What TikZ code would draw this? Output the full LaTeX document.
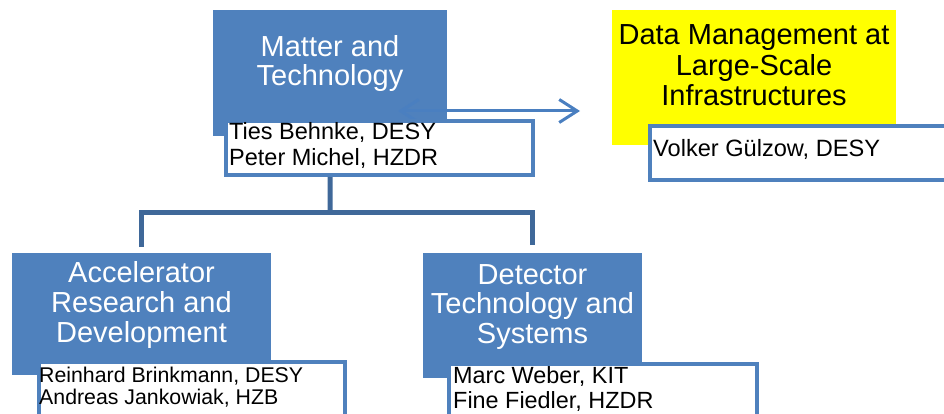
\documentclass[tikz,border=0pt]{standalone}
\usepackage{fontspec}
\setmainfont{Liberation Sans}
\usetikzlibrary{arrows.meta}
\definecolor{boxblue}{HTML}{4F81BD}
\definecolor{linkblue}{HTML}{3F6899}
\definecolor{arrowblue}{HTML}{4A7FC0}
\definecolor{hiyellow}{HTML}{FFFF00}
\tikzset{
  x=1pt, y=-1pt,
  areabox/.style={fill=boxblue, draw=none, inner sep=0pt, anchor=north west},
  hibox/.style={fill=hiyellow, draw=none, inner sep=0pt, anchor=north west},
  namebox/.style={fill=white, draw=boxblue, line width=4pt, inner sep=0pt, anchor=north west},
  areatitle/.style={text=white, inner sep=0pt, anchor=base, align=center,
    font=\fontsize{29}{29.5}\selectfont},
  hititle/.style={text=black, inner sep=0pt, anchor=base, align=center,
    font=\fontsize{29}{30.5}\selectfont},
  names/.style={text=black, inner sep=0pt, anchor=base west, align=left},
  conn/.style={draw=linkblue, line width=5pt},
  linkarrow/.style={draw=arrowblue, line width=3pt,
    {Straight Barb[length=18pt,width=23pt]}-{Straight Barb[length=18pt,width=23pt]}}
}
\begin{document}
\begin{tikzpicture}
\useasboundingbox (0,0) rectangle (944,414);
\clip (0,0) rectangle (944,414);

% programme areas
\node[areabox, minimum width=234pt, minimum height=126pt] (mt) at (213,10) {};
\node[hibox, minimum width=284pt, minimum height=135pt] (dm) at (612,10) {};
\node[areabox, minimum width=259pt, minimum height=122pt] (ac) at (12,253) {};
\node[areabox, minimum width=219pt, minimum height=125pt] (dt) at (423,253) {};

% link between the two areas
\coordinate (al) at (398,111);
\draw[linkarrow] (al) -- ([xshift=-32pt]dm.west |- al);

% spokesperson boxes
\node[namebox, minimum width=307pt, minimum height=54pt] (mtn) at (224,119) {};
\node[namebox, minimum width=310pt, minimum height=54pt] (dmn) at (648,124) {};
\node[namebox, minimum width=306pt, minimum height=58pt] (acn) at (37,360) {};
\node[namebox, minimum width=308pt, minimum height=56pt] (dtn) at (447,362) {};

% titles (anchored on the baseline of the last line)
\node[areatitle, font=\fontsize{29}{29}\selectfont] (mtt) at (330,86) {Matter and\\Technology};
\node[hititle] (dmt) at (754,106) {Data Management at\\Large-Scale\\Infrastructures};
\node[areatitle, font=\fontsize{29}{30}\selectfont] (act) at (141.5,342) {Accelerator\\Research and\\Development};
\node[areatitle] (dtt) at (532.5,343) {Detector\\Technology and\\Systems};

% names
\node[names, font=\fontsize{23.5}{26}\selectfont] (mtp) at (229,166)
  {Ties Behnke, DESY\\Peter Michel, HZDR};
\node[names, font=\fontsize{23.6}{26}\selectfont] (dmp) at (653,157)
  {Volker Gülzow, DESY};
\node[names, font=\fontsize{21.3}{21.5}\selectfont] (acp) at (39,404)
  {Reinhard Brinkmann, DESY\\Andreas Jankowiak, HZB};
\node[names, font=\fontsize{23.4}{25}\selectfont] (dtp) at (453,408)
  {Marc Weber, KIT\\Fine Fiedler, HZDR};

% tree connectors
\coordinate (bus) at (330,212);
\draw[conn] (mt.south |- mtn.south) -- (bus);
\draw[conn] ([yshift=6pt]ac.north) |- (bus) -| ([yshift=8pt]dt.north);
\end{tikzpicture}
\end{document}
